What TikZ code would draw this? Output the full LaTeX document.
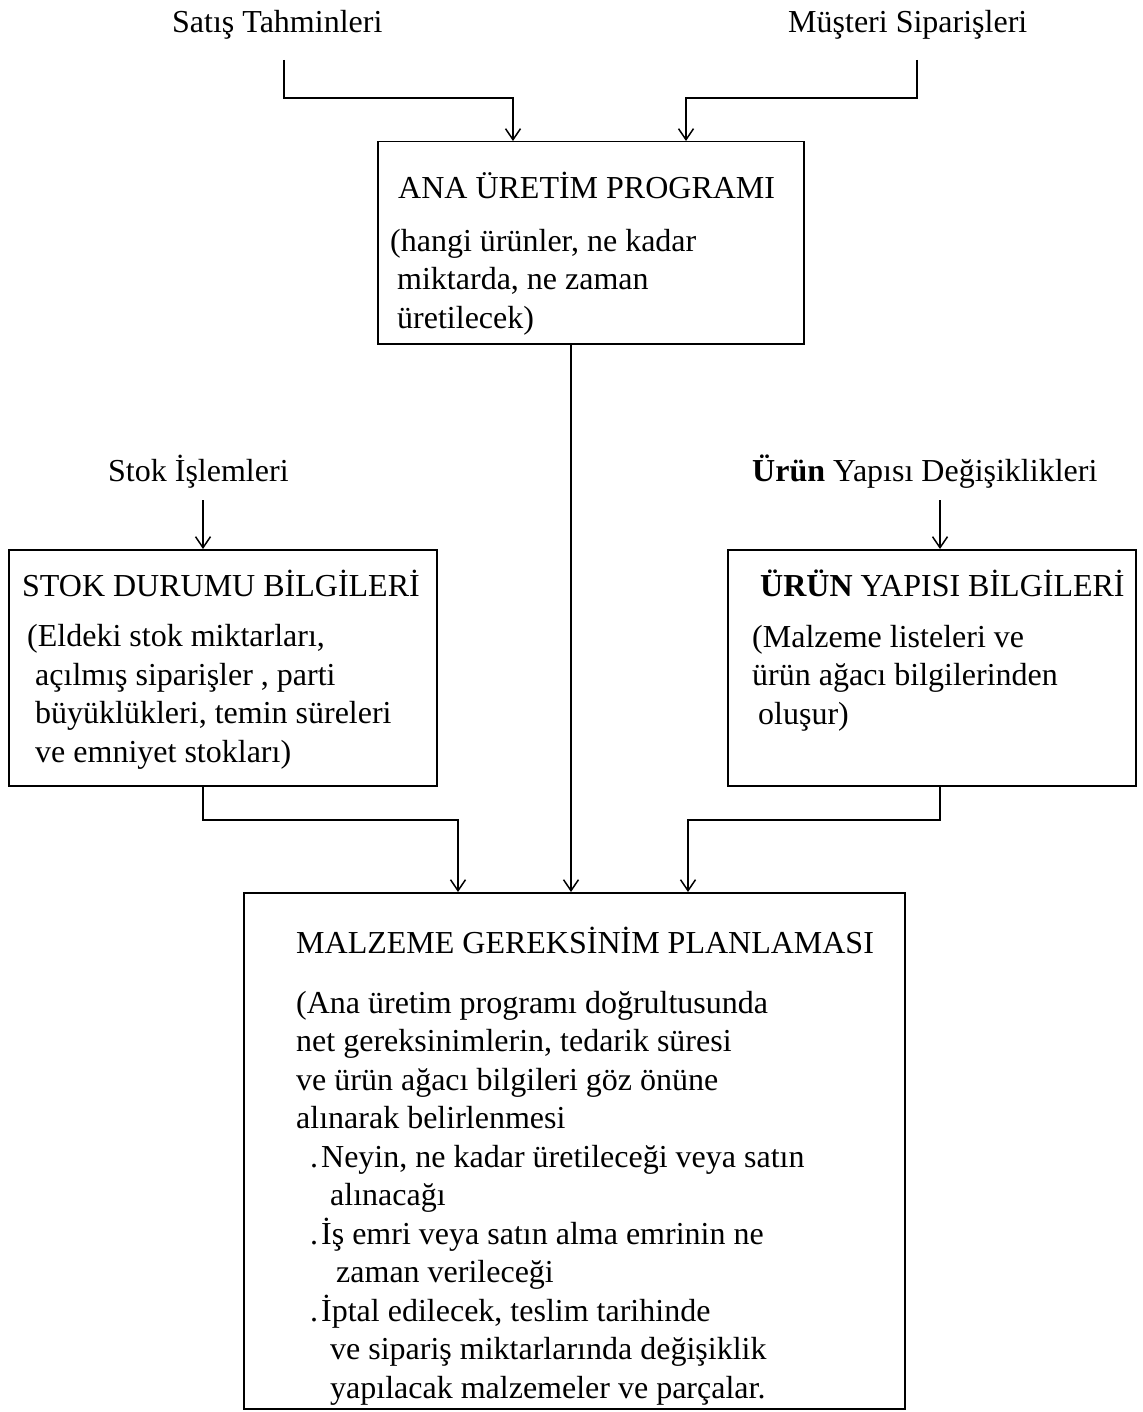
\documentclass[tikz,border=0pt]{standalone}
\usepackage{fontspec}
\setmainfont{Liberation Serif}
\usetikzlibrary{arrows.meta}
\begin{document}
\begin{tikzpicture}[x=1pt,y=-1pt,
  box/.style={draw, line width=1.5pt, inner sep=0pt, anchor=north west},
  lbl/.style={anchor=base west, inner sep=0pt, font=\fontsize{32}{38.5}\selectfont, align=left},
  arr/.style={line width=1.5pt, -{Straight Barb[length=11pt,width=15pt,line width=1.5pt]}}]
\useasboundingbox (0,0) rectangle (1142,1412);

% input labels
\node[lbl] (satis) at (172,33) {Satış Tahminleri};
\node[lbl] (musteri) at (788,33) {Müşteri Siparişleri};
\node[lbl] (stokis) at (108,481) {Stok İşlemleri};
\node[lbl] (urundeg) at (752,481) {\textbf{Ürün} Yapısı Değişiklikleri};

% boxes
\node[box, minimum width=426pt, minimum height=202pt] (ana) at (377,141) {};
\node[box, minimum width=428pt, minimum height=236pt] (stok) at (8,549) {};
\node[box, minimum width=408pt, minimum height=236pt] (urun) at (727,549) {};
\node[box, minimum width=661pt, minimum height=516pt] (mrp) at (243,892) {};

% box contents (multi-line texts are placed by the baseline of their last line)
\node[lbl] (anaT) at (398,199) {ANA ÜRETİM PROGRAMI};
\node[lbl] (anaB) at (390,328) {(hangi ürünler, ne kadar\\
\hspace*{7pt}miktarda, ne zaman\\
\hspace*{7pt}üretilecek)};

\node[lbl] (stokT) at (22,596) {STOK DURUMU BİLGİLERİ};
\node[lbl] (stokB) at (27,762) {(Eldeki stok miktarları,\\
\hspace*{8pt}açılmış siparişler , parti\\
\hspace*{8pt}büyüklükleri, temin süreleri\\
\hspace*{8pt}ve emniyet stokları)};

\node[lbl] (urunT) at (760,596) {\textbf{ÜRÜN} YAPISI BİLGİLERİ};
\node[lbl] (urunB) at (752,724) {(Malzeme listeleri ve\\
ürün ağacı bilgilerinden\\
\hspace*{6pt}oluşur)};

\node[lbl] (mrpT) at (296,953) {MALZEME GEREKSİNİM PLANLAMASI};
\node[lbl] (mrpB) at (296,1398) {(Ana üretim programı doğrultusunda\\
net gereksinimlerin, tedarik süresi\\
ve ürün ağacı bilgileri göz önüne\\
alınarak belirlenmesi\\
\hspace*{14pt}.\hspace{3pt}Neyin, ne kadar üretileceği veya satın\\
\hspace*{34pt}alınacağı\\
\hspace*{14pt}.\hspace{3pt}İş emri veya satın alma emrinin ne\\
\hspace*{40pt}zaman verileceği\\
\hspace*{14pt}.\hspace{3pt}İptal edilecek, teslim tarihinde\\
\hspace*{34pt}ve sipariş miktarlarında değişiklik\\
\hspace*{34pt}yapılacak malzemeler ve parçalar.};

% connector end points
\coordinate (satisOut) at (284,60);
\coordinate (musOut) at (917,60);
\coordinate (anaIn1) at (513,141);
\coordinate (anaIn2) at (686,141);
\coordinate (anaOut) at (571,343);
\coordinate (stokIsOut) at (203,500);
\coordinate (stokIn) at (203,549);
\coordinate (urunDegOut) at (940,500);
\coordinate (urunIn) at (940,549);
\coordinate (stokOut) at (203,785);
\coordinate (urunOut) at (940,785);
\coordinate (mrpIn1) at (458,892);
\coordinate (mrpIn2) at (571,892);
\coordinate (mrpIn3) at (688,892);

% connectors
\draw[arr] (satisOut) -- ++(0,38) -| (anaIn1);
\draw[arr] (musOut) -- ++(0,38) -| (anaIn2);
\draw[arr] (stokIsOut) -- (stokIn);
\draw[arr] (urunDegOut) -- (urunIn);
\draw[arr] (anaOut) -- (mrpIn2);
\draw[arr] (stokOut) -- ++(0,35) -| (mrpIn1);
\draw[arr] (urunOut) -- ++(0,35) -| (mrpIn3);
\end{tikzpicture}
\end{document}
